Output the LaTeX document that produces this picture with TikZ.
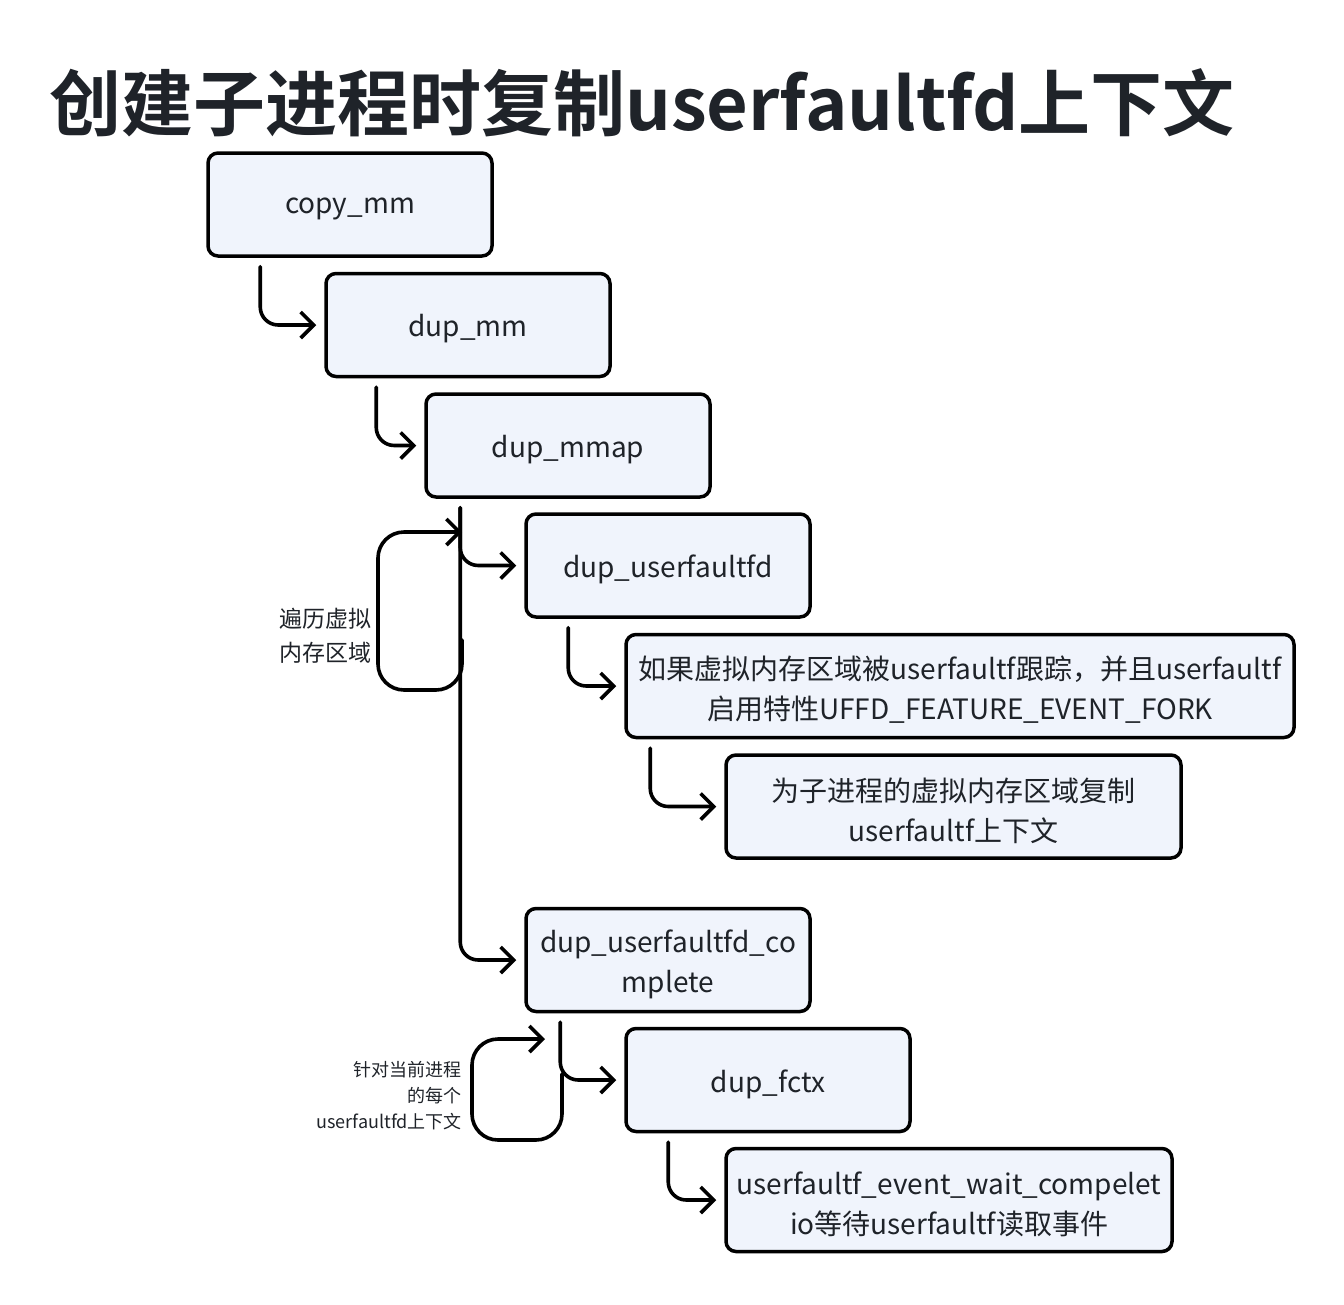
\documentclass[tikz,border=0pt]{standalone}
\usepackage{fontspec}
\setmainfont{Noto Sans CJK SC}
\newfontfamily\titlefont{Noto Sans CJK SC Bold}
\usetikzlibrary{arrows.meta,calc}
\definecolor{boxfill}{HTML}{F0F4FC}
\definecolor{txt}{HTML}{1F2329}
\tikzset{
  fbox/.style={draw=black, line width=3.5pt, fill=boxfill, rounded corners=10pt,
    minimum height=103pt, inner sep=4pt},
  boxtext/.style={align=center, text=txt, inner sep=0pt,
    font=\fontsize{28}{40}\selectfont},
  conn/.style={draw=black, line width=3.6pt, rounded corners=18pt, line cap=round, line join=round,
    -{Straight Barb[length=13pt,width=26pt,line width=3.6pt]}},
  loopline/.style={draw=black, line width=3.6pt, rounded corners=26pt, line cap=round, line join=round,
    -{Straight Barb[length=13pt,width=26pt,line width=3.6pt]}},
  lbl/.style={text=txt, inner sep=0pt}
}
\newcommand\flowbox[4]{%
  \node[fbox, minimum width=#3] (#1) at #2 {};
  \node[boxtext] (#1t) at ([yshift=-4pt]#1.center) {#4};}
\begin{document}
\begin{tikzpicture}[x=1pt,y=-1pt]
\useasboundingbox (0,0) rectangle (1344,1304);
\node[lbl, anchor=west, font=\titlefont\fontsize{72}{78}\selectfont] (title) at (49,103) {创建子进程时复制userfaultfd上下文};

\flowbox{a}{(350,204.5)}{284pt}{copy\_mm}
\flowbox{b}{(468,325)}{284pt}{dup\_mm}
\flowbox{c}{(568,445.5)}{284pt}{dup\_mmap}
\flowbox{d}{(668,565.5)}{284pt}{dup\_userfaultfd}
\flowbox{e}{(960,686)}{668pt}{如果虚拟内存区域被userfaultf跟踪，并且userfaultf\\启用特性UFFD\_FEATURE\_EVENT\_FORK}
\flowbox{f}{(953.5,806.5)}{455pt}{为子进程的虚拟内存区域复制\\userfaultf上下文}
\flowbox{g}{(668,960)}{284pt}{dup\_userfaultfd\_co\\mplete}
\flowbox{h}{(768,1080)}{284pt}{dup\_fctx}
\flowbox{i}{(949,1200)}{446pt}{userfaultf\_event\_wait\_compelet\\io等待userfaultf读取事件}

\draw[conn] ($(a.south west)+(54,9)$) |- ([xshift=-8pt]b.west);
\draw[conn] ($(b.south west)+(52,9)$) |- ([xshift=-8pt]c.west);
\draw[conn] ($(c.south west)+(36,9)$) |- ([xshift=-8pt]d.west);
\draw[conn] ($(c.south west)+(36,9)$) |- ([xshift=-8pt]g.west);
\draw[conn] ($(d.south west)+(44,9)$) |- ([xshift=-8pt]e.west);
\draw[conn] ($(e.south west)+(26,9)$) |- ([xshift=-8pt]f.west);
\draw[conn] ($(g.south west)+(36,9)$) |- ([xshift=-8pt]h.west);
\draw[conn] ($(h.south west)+(44,9)$) |- ([xshift=-8pt]i.west);

\coordinate (l1s) at (462,640);
\coordinate (l1e) at (462,532);
\draw[loopline] (l1s) |- (378,690) |- (l1e);
\coordinate (l2s) at (562,1074);
\coordinate (l2e) at (545,1039);
\draw[loopline] (l2s) |- (472,1140) |- (l2e);

\node[lbl, align=left, font=\fontsize{23}{34}\selectfont] (lab1) at (325,636) {遍历虚拟\\内存区域};
\node[lbl, align=right, anchor=east, font=\fontsize{18}{26}\selectfont] (lab2) at (462,1096) {针对当前进程\\的每个\\userfaultfd上下文};
\end{tikzpicture}
\end{document}
